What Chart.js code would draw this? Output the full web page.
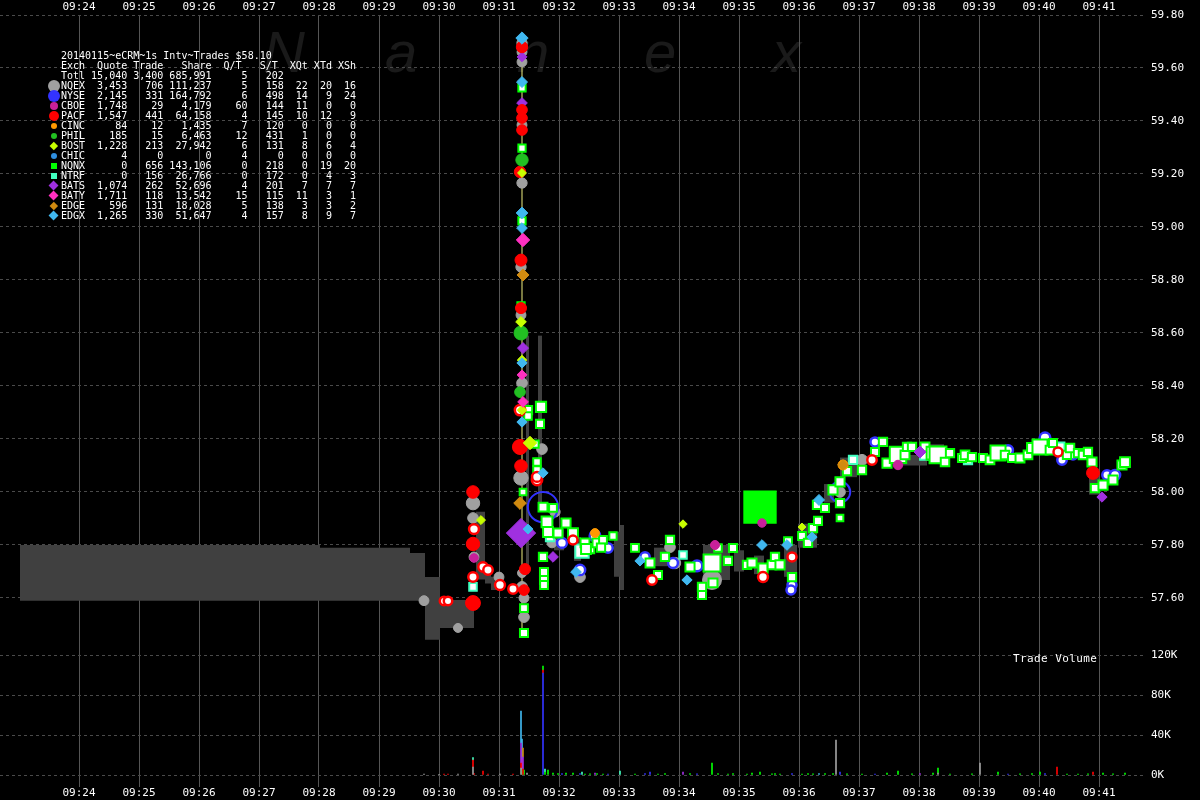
<!DOCTYPE html>
<html><head><meta charset="utf-8">
<script src="https://cdn.jsdelivr.net/npm/chart.js@4.4.1/dist/chart.umd.min.js"></script>
<style>
html,body{margin:0;padding:0;background:#000;}
#wrap{position:relative;width:1200px;height:800px;overflow:hidden;background:#000;}
#wm{position:absolute;left:0;top:0;width:1200px;height:100px;font:italic 58px/58px "Liberation Sans",sans-serif;color:#1a1a1a;}
#wm span{position:absolute;top:23px;}
#c{position:absolute;left:0;top:0;}
#legend{position:absolute;left:61px;top:51px;font:10px/10px "DejaVu Sans Mono",monospace;color:#fff;white-space:pre;margin:0;}
.ic{position:absolute;}
#tv{position:absolute;left:1013px;top:652px;font:11px/14px "DejaVu Sans Mono",monospace;letter-spacing:0.4px;color:#fff;}
</style></head>
<body>
<div id="wrap">
  <div id="wm"><span style="left:263px">N</span><span style="left:385px">a</span><span style="left:517px">n</span><span style="left:644px">e</span><span style="left:772px">x</span></div>
  <canvas id="c" width="1200" height="800"></canvas>
  <div id="icons"></div>
  <pre id="legend"></pre>
  <div id="tv">Trade Volume</div>
</div>
<script>
// ---------- axis tick labels ----------
const TIME_TICKS = ['09:24','09:25','09:26','09:27','09:28','09:29','09:30','09:31','09:32','09:33','09:34','09:35','09:36','09:37','09:38','09:39','09:40','09:41'];
const PRICE_TICKS = [57.60,57.80,58.00,58.20,58.40,58.60,58.80,59.00,59.20,59.40,59.60,59.80];
const VOLUME_TICKS = [0,20000,40000,60000,80000,100000,120000];

// ---------- summary table ----------
const TITLE = '20140115~eCRM~1s Intv~Trades $58.10';
const EXCH   = ['NQEX','NYSE','CBOE','PACF','CINC','PHIL','BOST','CHIC','NQNX','NTRF','BATS','BATY','EDGE','EDGX'];
const QUOTES = [3453,2145,1748,1547,84,185,1228,4,0,0,1074,1711,596,1265];
const TRADES = [706,331,29,441,12,15,213,0,656,156,262,118,131,330];
const SHARES = [111237,164792,4179,64158,1435,6463,27942,0,143106,26766,52696,13542,18028,51647];
const Q_PER_T = [5,6,60,4,7,12,6,4,0,0,4,15,5,4];
const S_PER_T = [158,498,144,145,120,431,131,0,218,172,201,115,138,157];
const X_QT = [22,14,11,10,0,1,8,0,0,0,7,11,3,8];
const X_TD = [20,9,0,12,0,0,6,0,19,4,7,3,3,9];
const X_SH = [16,24,0,9,0,0,4,0,20,3,7,1,2,7];
const TOTAL = [15040,3400,685991,5,202];

// ---------- trades: [time mm:ss after 09:00, price, shares] ----------
const NQEX = [['29:45',57.590,700],['30:19',57.487,500],['30:34',57.958,1800],['30:34',57.902,900],['30:35',57.755,700],['31:00',57.679,700],
 ['31:23',59.694,800],['31:23',59.660,700],['31:23',59.623,700],['31:23',59.385,700],['31:23',59.166,800],['31:22',58.849,800],['31:22',58.668,700],
 ['31:23',58.411,900],['31:22',58.053,2200],['31:28',57.845,900],['31:23',57.694,500],['31:23',57.642,900],['31:25',57.600,700],['31:25',57.528,900],
 ['31:43',58.162,900],['31:56',57.925,800],['31:53',57.808,700],['32:21',57.679,900],['33:51',57.792,900],['33:56',57.732,1100],['34:33',57.668,4500],
 ['36:41',58.000,900],['37:03',58.121,1000]];
const NYSE = [['31:44',57.943,14000],['32:03',57.808,700],['32:21',57.706,800],['32:36',57.834,900],['32:49',57.789,600],['33:26',57.755,600],['33:54',57.732,700],
 ['34:18',57.721,900],['35:53',57.649,500],['35:52',57.630,500],['36:41',58.000,5500],['37:16',58.189,500],['39:29',58.158,700],['40:06',58.204,900],
 ['40:23',58.121,600],['40:34',58.140,500],['41:08',58.064,600],['41:16',58.064,800]];
const CBOE = [['30:35',57.751,400],['34:36',57.800,500],['35:23',57.883,400],['37:39',58.102,600]];
const PACF = [['30:05',57.589,400],['30:09',57.589,400],['30:34',57.581,2400],['30:34',58.000,1500],['30:35',57.860,700],['30:34',57.804,1800],
 ['30:44',57.717,600],['30:34',57.679,600],['30:49',57.706,600],['31:01',57.649,700],['31:14',57.634,600],['31:23',59.679,1100],['31:23',59.442,900],
 ['31:23',59.411,900],['31:23',59.366,900],['31:21',59.208,1100],['31:22',58.875,1300],['31:22',58.694,1000],['31:21',58.309,800],['31:21',58.170,2500],
 ['31:22',58.098,1500],['31:26',57.709,1000],['31:25',57.630,900],['31:38',58.045,800],['31:38',58.057,700],['32:14',57.819,500],['33:33',57.668,600],
 ['35:24',57.679,700],['35:53',57.755,500],['37:13',58.121,600],['40:19',58.151,500],['40:54',58.072,1600]];
const CINC = [['32:36',57.845,500],['36:44',58.102,700]];
const PHIL = [['31:23',59.253,1400],['31:22',58.600,2000],['31:21',58.377,900]];
const BOST = [['30:42',57.894,500],['31:23',59.204,500],['31:22',58.642,900],['31:23',58.498,600],['31:23',58.309,600],['31:31',58.185,1800],
 ['34:04',57.879,400],['36:03',57.868,300]];
const CHIC = [];
const NQNX = [['31:23',59.525,800],['31:23',59.298,800],['31:23',59.023,800],['31:22',58.702,800],['31:29',58.309,1200],['31:29',58.287,900],
 ['31:36',58.181,800],['31:24',58.000,600],['31:25',57.562,1000],['31:25',57.468,1100],['31:42',58.321,2200],['31:41',58.257,1100],['31:38',58.113,900],
 ['31:38',58.083,900],['31:44',57.943,1500],['31:54',57.940,1000],['31:48',57.887,2600],['31:49',57.849,2000],['31:59',57.845,1500],['32:07',57.883,1600],
 ['32:14',57.845,2000],['32:26',57.808,1500],['32:31',57.785,1300],['32:38',57.808,1500],['32:44',57.819,1000],['32:54',57.834,800],['33:16',57.789,1000],
 ['33:39',57.687,1100],['31:44',57.755,1200],['31:45',57.698,1100],['31:45',57.668,1100],['31:45',57.649,1000],['32:27',57.785,2000],
 ['32:42',57.790,1200],['33:31',57.732,1500],['33:46',57.755,1200],['33:51',57.819,1200],['34:11',57.717,1600],['34:23',57.642,1200],['34:23',57.611,1100],
 ['34:33',57.732,8000],['34:34',57.657,1500],['34:39',57.789,900],['34:49',57.740,1200],['34:54',57.789,1100],['35:08',57.725,1200],['35:13',57.732,1600],
 ['35:21',57.943,33000],['35:24',57.713,1700],['35:33',57.725,1400],['35:36',57.755,1200],['35:41',57.725,1600],['35:49',57.815,1000],['35:53',57.679,1200],
 ['36:03',57.834,1000],['36:09',57.808,1200],['36:14',57.864,1200],['36:19',57.891,1100],['36:18',57.951,1200],['36:26',57.940,1100],['36:34',58.008,1600],
 ['36:41',58.038,1600],['36:41',57.958,1200],['36:41',57.902,600],['36:48',58.079,1200],['37:03',58.083,1200],['37:16',58.151,1100],['37:24',58.189,1200],
 ['37:28',58.109,1600],['37:39',58.140,7500],['37:46',58.140,1500],['37:48',58.170,1200],['37:53',58.170,1200],['38:06',58.170,1500],['38:14',58.147,4000],
 ['38:19',58.140,8000],['38:26',58.113,1300],['38:31',58.147,1200],['38:43',58.128,1100],['38:46',58.140,1400],['38:53',58.132,1200],['39:04',58.128,1100],
 ['39:11',58.121,1400],['39:19',58.147,6000],['39:26',58.140,1300],['39:33',58.128,1100],['39:41',58.128,1500],['39:49',58.140,1400],['39:53',58.166,2000],
 ['40:01',58.170,6000],['40:11',58.158,1400],['40:14',58.185,1100],['40:28',58.140,1200],['40:31',58.166,1300],['40:39',58.147,1200],['40:44',58.140,1300],
 ['40:49',58.151,1200],['40:53',58.113,1600],['40:56',58.015,1200],['41:04',58.026,1600],['41:14',58.045,1500],['41:23',58.102,1600],['41:26',58.113,2000]];
const NTRF = [['30:34',57.642,900],['31:51',57.830,1200],['32:23',57.777,4500],['34:04',57.762,900],['36:54',58.121,1200],['38:06',58.140,2000],
 ['38:49',58.120,1200],['40:21',58.170,1500]];
const BATS = [['30:35',57.751,400],['31:23',59.642,700],['31:23',59.468,900],['31:24',58.543,1000],['31:22',57.845,13000],['31:54',57.755,900],
 ['38:01',58.151,1300],['41:03',57.981,800]];
const BATY = [['31:24',58.951,1800],['31:23',58.442,700],['31:24',58.340,900]];
const EDGE = [['31:24',58.819,1300],['31:21',57.958,1500],['36:44',58.102,900]];
const EDGX = [['31:23',59.713,1400],['31:23',59.547,1000],['31:23',59.053,1200],['31:23',58.996,900],['31:23',58.487,800],['31:23',58.264,800],
 ['31:44',58.072,800],['31:29',57.860,700],['32:17',57.698,900],['33:21',57.740,800],['34:08',57.668,800],['35:23',57.800,900],['35:48',57.800,900],
 ['36:13',57.830,800],['36:20',57.970,1000]];

// ---------- NBBO spread shading: [from, to, low, high] ----------
const SPREAD = [['23:01','28:01',57.590,57.800],['28:01','29:31',57.590,57.790],['29:31','29:46',57.590,57.770],['29:46','30:01',57.442,57.679],
 ['30:01','30:35',57.487,57.592],['30:37','30:46',57.670,57.925],['30:46','30:52',57.655,57.705],['30:52','31:02',57.630,57.680],
 ['31:27','31:30',57.690,58.590],['31:39','31:43',57.950,58.590],['31:55','32:05',57.780,57.860],['32:15','32:22',57.740,57.830],
 ['32:55','33:01',57.680,57.850],['33:01','33:05',57.630,57.875],['33:35','33:50',57.720,57.790],['34:24','34:51',57.668,57.800],['34:55','35:05',57.700,57.780],
 ['35:15','35:25',57.690,57.760],['35:45','35:58',57.680,57.800],['35:59','36:18',57.790,57.880],['36:25','36:35',57.960,58.030],
 ['36:41','36:58',58.056,58.130],['37:34','38:08',58.100,58.140],['38:10','38:25',58.120,58.180],['39:25','39:35',58.120,58.160],
 ['40:20','40:30',58.130,58.170],['40:50','41:00',57.990,58.080]];

// ---------- 1-second high/low line of the spike ----------
const SPIKE_TIME = '31:23';
const SPIKE_LOW = 57.468;
const SPIKE_HIGH = 59.713;

// ---------- trade volume: [time, exchange, shares] ----------
const VOLUME = [['29:45','NQEX',1000],['30:00','NQEX',600],['30:05','PACF',800],['30:09','PACF',800],['30:19','NQEX',1000],
 ['30:34','NQEX',8000],['30:34','PACF',7000],['30:34','NTRF',2500],['30:35','PACF',1500],['30:44','PACF',4000],['30:49','PACF',1000],
 ['31:01','NQEX',800],['31:14','PACF',800],['31:22','NQEX',7000],['31:22','PACF',5000],['31:22','BATS',20000],['31:22','EDGX',32000],
 ['31:23','PHIL',6000],['31:23','BATY',10000],['31:23','EDGX',20000],['31:24','PACF',6000],['31:24','EDGE',9000],['31:24','BATS',12000],
 ['31:25','NQNX',5000],['31:28','NQEX',2000],['31:44','NYSE',102000],['31:44','PACF',3000],['31:44','NQNX',4000],['31:46','NQNX',3000],
 ['31:46','NTRF',3000],['31:49','NQNX',5000],['31:54','NQNX',2000],['31:59','NQNX',1500],['32:03','NYSE',1500],['32:07','NQNX',2000],
 ['32:14','NQNX',2000],['32:21','NYSE',1500],['32:23','NTRF',3000],['32:26','NQNX',1000],['32:31','NQNX',1200],['32:36','BATS',2000],['32:38','NQNX',1500],
 ['32:44','NQNX',800],['32:49','NYSE',1000],['33:01','NTRF',4000],['33:16','NQNX',1000],['33:26','NYSE',1500],['33:31','NYSE',3000],['33:39','NQNX',1000],
 ['33:46','NQNX',1500],['34:04','BATS',3000],['34:11','NQNX',1500],['34:18','NYSE',1200],['34:33','NQNX',12000],['34:39','NQNX',1500],['34:49','NQNX',1000],
 ['34:54','NQNX',1500],['35:08','NQNX',1000],['35:13','NQNX',2000],['35:21','NQNX',3000],['35:33','NQNX',1200],['35:36','NQNX',1500],['35:41','NQNX',1000],
 ['35:53','NYSE',1500],['36:03','NQNX',1000],['36:09','NQNX',1500],['36:14','NQNX',1200],['36:20','EDGX',1500],['36:26','NQNX',1500],['36:34','NQNX',1500],
 ['36:37','NQEX',35000],['36:41','NYSE',3000],['36:48','NQNX',1200],['37:03','NQNX',1000],['37:16','NYSE',800],['37:28','NQNX',2000],['37:39','NQNX',4000],
 ['37:53','NQNX',1200],['38:01','BATS',1500],['38:14','NQNX',2000],['38:19','NQNX',5000],['38:19','NQEX',2000],['38:31','NQNX',1000],['38:53','NQNX',1200],
 ['39:01','NQEX',12000],['39:19','NQNX',3000],['39:29','NYSE',1000],['39:41','NQNX',1200],['39:53','NQNX',1500],['40:01','NQNX',3000],['40:06','NYSE',1500],
 ['40:18','PACF',8000],['40:28','NQNX',1000],['40:39','NQNX',1000],['40:49','NQNX',1200],['40:54','PACF',3000],['41:04','NQNX',2000],['41:14','NQNX',1200],
 ['41:26','NQNX',2000]];

// ================= rendering =================
const COLOR = {NQEX:'#a0a0a0',NYSE:'#3333ff',CBOE:'#c8209a',PACF:'#ff0000',CINC:'#ff9900',PHIL:'#22c022',BOST:'#c8ff00',CHIC:'#2f8fdf',
  NQNX:'#00ff00',NTRF:'#40ffc0',BATS:'#a030e0',BATY:'#ff30c0',EDGE:'#d08a10',EDGX:'#40b8f0'};
const SHAPE = {NQEX:'circle',NYSE:'circle',CBOE:'circle',PACF:'circle',CINC:'circle',PHIL:'circle',BOST:'rectRot',CHIC:'circle',
  NQNX:'rect',NTRF:'rect',BATS:'rectRot',BATY:'rectRot',EDGE:'rectRot',EDGX:'rectRot'};
const TRADES_BY_EX = {NQEX,NYSE,CBOE,PACF,CINC,PHIL,BOST,CHIC,NQNX,NTRF,BATS,BATY,EDGE,EDGX};
const DRAW_ORDER = ['EDGX','BATY','EDGE','BOST','PHIL','CINC','CBOE','PACF','BATS','NQNX','NTRF','NYSE','NQEX','CHIC'];

const toSec = s => { const [m, ss] = s.split(':').map(Number); return (m - 24) * 60 + ss; };
const labelSec = l => (Number(l.split(':')[1]) - 24) * 60;
const secLabel = v => '09:' + String(24 + Math.round(v / 60)).padStart(2, '0');
const rad = sh => Math.min(24, 2 + Math.sqrt(sh) / 9);

function fillFor(ex, sh) {
  if (ex === 'NQNX' || ex === 'NTRF') return sh >= 20000 ? COLOR[ex] : '#ffffff';
  if (ex === 'NYSE') return sh >= 4000 ? 'rgba(0,0,0,0)' : '#ffffff';
  if (ex === 'PACF') return sh < 900 ? '#ffffff' : COLOR[ex];
  return COLOR[ex];
}
const borderFor = (ex, sh) => {
  if (ex === 'NQNX' || ex === 'NTRF') return 2;
  if (ex === 'NYSE') return sh >= 4000 ? 2 : 2.5;
  if (ex === 'PACF') return sh < 900 ? 2.5 : 1;
  return 1;
};

const datasets = [];
DRAW_ORDER.forEach((ex, i) => {
  datasets.push({
    type: 'scatter', label: ex, order: i + 1, xAxisID: 'x', yAxisID: 'y',
    data: TRADES_BY_EX[ex].map(([t, p, s]) => ({x: toSec(t), y: p, s})),
    pointStyle: SHAPE[ex],
    pointRadius: c => rad(c.raw ? c.raw.s : 500),
    pointHoverRadius: c => rad(c.raw ? c.raw.s : 500),
    pointBackgroundColor: c => fillFor(ex, c.raw ? c.raw.s : 0),
    pointBorderColor: COLOR[ex],
    pointBorderWidth: c => borderFor(ex, c.raw ? c.raw.s : 0)
  });
});

datasets.push({
  type: 'line', label: 'spike', order: 40, xAxisID: 'x', yAxisID: 'y',
  data: [{x: toSec(SPIKE_TIME), y: SPIKE_LOW}, {x: toSec(SPIKE_TIME), y: SPIKE_HIGH}],
  borderColor: '#f0f080', borderWidth: 1, pointRadius: 0, fill: false
});

EXCH.forEach(ex => {
  const rows = VOLUME.filter(v => v[1] === ex);
  if (!rows.length) return;
  datasets.push({
    type: 'bar', label: 'vol ' + ex, order: 60, xAxisID: 'x', yAxisID: 'yv', stack: 'vol', grouped: false,
    data: rows.map(([t, , sh]) => ({x: toSec(t), y: sh})),
    backgroundColor: COLOR[ex], borderWidth: 0, barThickness: 1
  });
});

const upper = [], lower = [];
SPREAD.forEach(([f, t, lo, hi], i) => {
  upper.push({x: toSec(f), y: hi}, {x: toSec(t), y: hi});
  lower.push({x: toSec(f), y: lo}, {x: toSec(t), y: lo});
  const next = SPREAD[i + 1];
  if (!next || next[0] !== t) {
    upper.push({x: toSec(t), y: null});
    lower.push({x: toSec(t), y: null});
  }
});
datasets.push({type: 'line', label: 'spreadHi', order: 90, xAxisID: 'x', yAxisID: 'y', data: upper,
  borderColor: 'rgba(0,0,0,0)', borderWidth: 0, pointRadius: 0, spanGaps: false, fill: '+1', backgroundColor: '#404040', tension: 0});
datasets.push({type: 'line', label: 'spreadLo', order: 91, xAxisID: 'x', yAxisID: 'y', data: lower,
  borderColor: 'rgba(0,0,0,0)', borderWidth: 0, pointRadius: 0, spanGaps: false, fill: false, tension: 0});

const tickFont = {family: 'DejaVu Sans Mono', size: 11};
const xAxis = (pos) => ({
  type: 'linear', position: pos, min: -79, max: 1066, offset: false,
  afterBuildTicks: s => { s.ticks = TIME_TICKS.map(l => ({value: labelSec(l)})); },
  afterFit: s => { s.height = pos === 'top' ? 15 : 13; s.paddingLeft = 0; s.paddingRight = 0; },
  ticks: {callback: v => secLabel(v), color: '#ffffff', font: tickFont, padding: pos === 'top' ? 1 : 0, maxRotation: 0, autoSkip: false},
  grid: {display: pos === 'bottom', offset: false, color: '#555555', lineWidth: 1, drawTicks: false},
  border: {display: false}
});
const yFit = s => { s.width = 55; s.paddingTop = 0; s.paddingBottom = 0; };

new Chart(document.getElementById('c'), {
  type: 'scatter',
  data: {datasets},
  options: {
    responsive: false, animation: false, devicePixelRatio: 1, events: [],
    layout: {padding: 0, autoPadding: false},
    plugins: {legend: {display: false}, tooltip: {enabled: false}},
    scales: {
      x: xAxis('bottom'),
      xt: xAxis('top'),
      y: {type: 'linear', position: 'right', stack: 'right', stackWeight: 630, min: 57.42264, max: 59.80,
        afterBuildTicks: s => { s.ticks = PRICE_TICKS.map(v => ({value: v})); }, afterFit: yFit,
        ticks: {callback: v => v.toFixed(2), color: '#ffffff', font: tickFont, padding: 6},
        grid: {color: '#4a4a4a', drawTicks: false}, border: {display: false, dash: [3, 3]}},
      yv: {type: 'linear', position: 'right', stack: 'right', stackWeight: 142, min: -12000, max: 130000,
        afterBuildTicks: s => { s.ticks = VOLUME_TICKS.map(v => ({value: v})); }, afterFit: yFit,
        ticks: {callback: v => (v / 1000) + 'K', color: '#ffffff', font: tickFont, padding: 6},
        grid: {color: '#4a4a4a', drawTicks: false}, border: {display: false, dash: [3, 3]}}
    }
  }
});

// ---------- summary table text ----------
const fmt = n => n.toLocaleString('en-US');
const pad = (v, w) => String(v).padStart(w);
const lines = [TITLE, 'Exch  Quote Trade   Share  Q/T   S/T  XQt XTd XSh',
  'Totl' + pad(fmt(TOTAL[0]), 7) + pad(fmt(TOTAL[1]), 6) + pad(fmt(TOTAL[2]), 8) + pad(TOTAL[3], 6) + pad(TOTAL[4], 6)];
EXCH.forEach((ex, i) => {
  lines.push(ex + pad(fmt(QUOTES[i]), 7) + pad(fmt(TRADES[i]), 6) + pad(fmt(SHARES[i]), 8) + pad(Q_PER_T[i], 6) + pad(S_PER_T[i], 6)
    + pad(X_QT[i], 4) + pad(X_TD[i], 4) + pad(X_SH[i], 4));
});
document.getElementById('legend').textContent = lines.join('\n');

const ICON = {NQEX:['c',6],NYSE:['c',6],CBOE:['c',4],PACF:['c',5],CINC:['c',3],PHIL:['c',3],BOST:['d',4],CHIC:['c',3],
  NQNX:['s',3],NTRF:['s',3],BATS:['d',5],BATY:['d',5],EDGE:['d',4],EDGX:['d',5]};
const icons = document.getElementById('icons');
EXCH.forEach((ex, i) => {
  const [k, r] = ICON[ex];
  const cy = 86 + i * 10, cx = 53.5;
  const d = document.createElement('div');
  d.className = 'ic';
  let s = r * 2;
  if (k === 'd') s = r * 1.414;
  d.style.cssText = `left:${cx - s / 2}px;top:${cy - s / 2}px;width:${s}px;height:${s}px;background:${COLOR[ex]};` +
    (k === 'c' ? 'border-radius:50%;' : '') + (k === 'd' ? 'transform:rotate(45deg);' : '');
  icons.appendChild(d);
});
</script>
</body></html>
